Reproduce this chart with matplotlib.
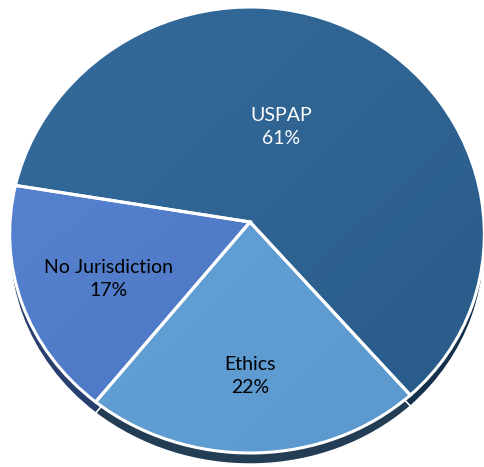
import matplotlib
matplotlib.use("Agg")
import numpy as np
import matplotlib.pyplot as plt
from matplotlib.colors import to_rgb
from matplotlib.transforms import Transform

# Share of cases by category
categories = ["USPAP", "Ethics", "No Jurisdiction"]
shares = [61, 22, 17]

# light (upper-left) / dark (lower-right) shades of each slice's top face
top_light = ["#346c9b", "#65a5da", "#5886d3"]
top_dark = ["#295a89", "#5a97cd", "#4870bc"]
side_colors = ["#15304c", "#233d55", "#273e6e"]
text_colors = ["white", "black", "black"]
# label anchors in pixel coordinates
label_xy = [(281, 127), (250, 376), (109, 279)]

W, H, DPI = 485, 467, 100
APEX_X, APEX_Y = 250.0, 222.0
DEPTH = 11.0


class TiltView(Transform):
    """Map the unit pie onto a tilted disc seen slightly from above."""
    input_dims = output_dims = 2
    is_separable = False
    has_inverse = False

    def __init__(self, drop=0.0):
        super().__init__()
        self.drop = drop

    def transform_non_affine(self, xy):
        xy = np.asarray(xy, float)
        x, u = xy[:, 0], xy[:, 1]
        px = APEX_X + x * (237.0 - 13.0 * u) - 3.0 * x ** 2
        py = APEX_Y - (223.0 * u - 8.0 * u ** 2) + self.drop
        return np.column_stack([px, py])


fig = plt.figure(figsize=(W / DPI, H / DPI), dpi=DPI)
ax = fig.add_axes([0, 0, 1, 1])

start = 170.5

# side of the disc: a lowered copy behind the top face
side, _ = ax.pie(shares, colors=side_colors, startangle=start, counterclock=False,
                 radius=1, center=(0, 0), frame=True,
                 wedgeprops=dict(edgecolor="white", linewidth=1.0))
for w in side:
    w.set_transform(TiltView(DEPTH) + ax.transData)
    w.set_zorder(1)

top, _ = ax.pie(shares, colors=top_dark, startangle=start, counterclock=False,
                radius=1, center=(0, 0), frame=True,
                wedgeprops=dict(edgecolor="white", linewidth=2.2, joinstyle="miter"))

# soft diagonal shading on each top face
gx, gy = np.meshgrid(np.linspace(0, 1, 200), np.linspace(0, 1, 200))
ramp = np.clip((gx + gy) / 2.0, 0, 1)[..., None]
for w, c0, c1 in zip(top, top_light, top_dark):
    w.set_transform(TiltView() + ax.transData)
    img = (1 - ramp) * np.array(to_rgb(c0)) + ramp * np.array(to_rgb(c1))
    im = ax.imshow(img, extent=(0, W, H, 0), origin="upper", zorder=2,
                   interpolation="bilinear")
    im.set_clip_path(w)
    w.set_facecolor("none")
    w.set_zorder(3)

ax.set_aspect("auto")
ax.set_xlim(0, W)
ax.set_ylim(H, 0)
ax.axis("off")

for name, val, col, (px, py) in zip(categories, shares, text_colors, label_xy):
    ax.text(px, py, f"{name}\n{val}%", ha="center", va="center",
            color=col, fontsize=14, family=["Lato", "DejaVu Sans"], linespacing=1.4,
            zorder=5)

fig.savefig("out.png", dpi=DPI)
